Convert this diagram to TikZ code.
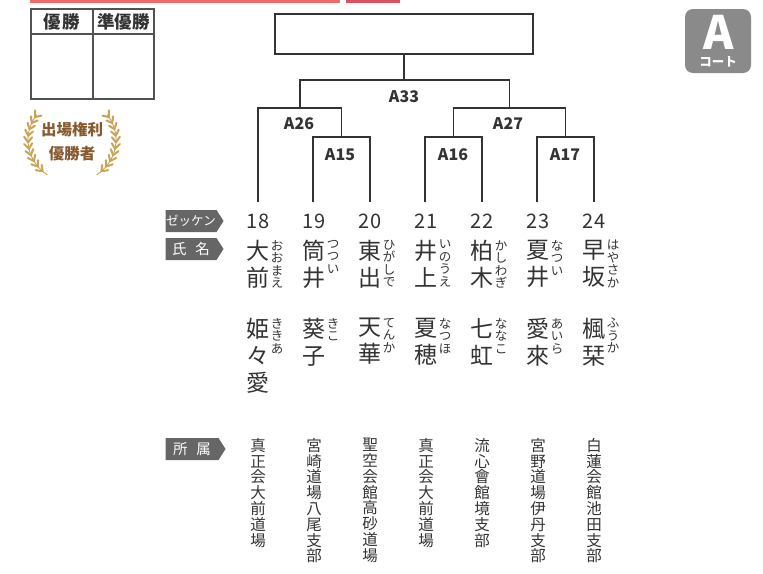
\documentclass[tikz,border=0pt]{standalone}
\usepackage{fontspec}
\setmainfont{Noto Sans CJK JP}
\usetikzlibrary{shapes.symbols}
\definecolor{ln}{HTML}{333333}
\definecolor{txt}{HTML}{333333}
\definecolor{tagc}{HTML}{666666}
\definecolor{badge}{HTML}{8A8A8A}
\definecolor{redA}{HTML}{F06A6A}
\definecolor{redB}{HTML}{D9535F}
\definecolor{gold}{HTML}{C9A456}
\definecolor{brown}{HTML}{87592E}
\tikzset{
  br/.style={draw=ln, line width=1.3pt},
  tbl/.style={draw=ln!85, line width=1.2pt},
  fam/.style={font=\fontsize{23}{27}\selectfont, align=center, inner sep=0pt, anchor=north, text=txt},
  fur/.style={font=\fontsize{12.5}{12.5}\selectfont, align=center, inner sep=0pt, anchor=north, text=txt},
  aff/.style={font=\fontsize{15.5}{15.8}\selectfont, align=center, inner sep=0pt, anchor=north, text=txt},
  num/.style={font=\fontsize{20}{20}\selectfont, inner sep=0pt, text=txt},
  lab/.style={font=\bfseries\fontsize{16}{16}\selectfont, inner sep=0pt, text=txt},
  tagbox/.style={signal, signal to=east, signal pointer angle=115, fill=tagc, text=white,
     minimum height=22pt, minimum width=58pt, inner sep=0pt, font=\fontsize{12.5}{12.5}\selectfont},
  hdr/.style={font=\bfseries\fontsize{17.5}{18}\selectfont, inner sep=0pt, text=txt},
  leaf/.style={gold, line width=2pt, line cap=round},
}
\begin{document}
\begin{tikzpicture}[x=1pt,y=-1pt]
\useasboundingbox (0,0) rectangle (763,573);
% top stripes
\fill[redA] (30,0) rectangle (340,2.5);
\fill[redB] (346,0) rectangle (400,2.5);
% result table
\draw[tbl] (31,9) rectangle (154,99);
\draw[tbl] (31,34) -- (154,34);
\draw[tbl] (93,9) -- (93,99);
\node[hdr] (win) at (62,21.5) {優\hspace{0.1em}勝};
\node[hdr] (runner) at (123.5,21.5) {準優勝};
% laurel badge
\foreach \a in {147,156,...,232} {
  \draw[leaf] ({72+44*cos(\a)},{140-42*sin(\a)}) -- ({72+48*cos(\a-7)},{140-46*sin(\a-7)});
  \draw[leaf] ({72+44*cos(\a)},{140-42*sin(\a)}) -- ({72+40*cos(\a-7)},{140-38*sin(\a-7)});
  \draw[leaf] ({72-44*cos(\a)},{140-42*sin(\a)}) -- ({72-48*cos(\a-7)},{140-46*sin(\a-7)});
  \draw[leaf] ({72-44*cos(\a)},{140-42*sin(\a)}) -- ({72-40*cos(\a-7)},{140-38*sin(\a-7)});
}
\draw[gold, line width=0.9pt] plot[domain=143:236, samples=30] ({72+44*cos(\x)},{140-42*sin(\x)});
\draw[gold, line width=0.9pt] plot[domain=143:236, samples=30] ({72-44*cos(\x)},{140-42*sin(\x)});
\node[font=\bfseries\fontsize{15.5}{16}\selectfont, text=brown, inner sep=0pt] (q1) at (72,130) {出場権利};
\node[font=\bfseries\fontsize{15.5}{16}\selectfont, text=brown, inner sep=0pt] (q2) at (72,154) {優勝者};
% court badge
\node[fill=badge, rounded corners=8pt, minimum width=66pt, minimum height=64pt, inner sep=0pt] (court) at (718,41) {};
\node[text=white, font=\bfseries\fontsize{46}{46}\selectfont, inner sep=0pt] (courtA) at (719,32) {A};
\node[text=white, font=\bfseries\fontsize{12.5}{12.5}\selectfont, inner sep=0pt] (courtT) at (718,62) {コート};
% final box
\node[draw=ln, line width=1.3pt, minimum width=258pt, minimum height=40pt, inner sep=0pt] (final) at (404,34) {};
% bracket coordinates
\coordinate (j33) at (404,80);
\coordinate (j26) at (300,108);
\coordinate (j27) at (509.5,108);
\coordinate (j15) at (341.5,137);
\coordinate (j16) at (453.5,137);
\coordinate (j17) at (565.5,137);
\coordinate (t18) at (258,202);
\coordinate (t19) at (313,202);
\coordinate (t20) at (370,202);
\coordinate (t21) at (425,202);
\coordinate (t22) at (482,202);
\coordinate (t23) at (537,202);
\coordinate (t24) at (594,202);
\draw[br] (final.south) -- (j33);
\draw[br] (j26) |- (j33) -| (j27);
\draw[br] (t18) |- (j26) -| (j15);
\draw[br] (t19) |- (j15) -| (t20);
\draw[br] (t21) |- (j16) -| (t22);
\draw[br] (j16) |- (j27) -| (j17);
\draw[br] (t23) |- (j17) -| (t24);
\node[lab] (A33) at (404,97) {A33};
\node[lab] (A26) at (299,124) {A26};
\node[lab] (A27) at (508,124) {A27};
\node[lab] (A15) at (340,155) {A15};
\node[lab] (A16) at (453,155) {A16};
\node[lab] (A17) at (565,155) {A17};
% tags
\node[tagbox] (tagnum) at (191,221) {ゼッケン};
\node[tagbox, font=\fontsize{14.5}{14.5}\selectfont] (tagname) at (191,249) {氏\hspace{0.6em}名};
\node[tagbox, font=\fontsize{14.5}{14.5}\selectfont, minimum width=60pt] (tagaff) at (192,449) {所\hspace{0.6em}属};
% competitors
\foreach \n/\x/\fa/\ffu/\gi/\gfu/\af in {
  18/258/{大\\前}/{お\\お\\ま\\え}/{姫\\々\\愛}/{き\\き\\あ}/{真\\正\\会\\大\\前\\道\\場},
  19/314/{筒\\井}/{つ\\つ\\い}/{葵\\子}/{き\\こ}/{宮\\崎\\道\\場\\八\\尾\\支\\部},
  20/370/{東\\出}/{ひ\\が\\し\\で}/{天\\華}/{て\\ん\\か}/{聖\\空\\会\\館\\高\\砂\\道\\場},
  21/426/{井\\上}/{い\\の\\う\\え}/{夏\\穂}/{な\\つ\\ほ}/{真\\正\\会\\大\\前\\道\\場},
  22/482/{柏\\木}/{か\\し\\わ\\ぎ}/{七\\虹}/{な\\な\\こ}/{流\\心\\會\\館\\境\\支\\部},
  23/538/{夏\\井}/{な\\つ\\い}/{愛\\來}/{あ\\い\\ら}/{宮\\野\\道\\場\\伊\\丹\\支\\部},
  24/594/{早\\坂}/{は\\や\\さ\\か}/{楓\\栞}/{ふ\\う\\か}/{白\\蓮\\会\\館\\池\\田\\支\\部}} {
  \node[num] (num\n) at (\x,221) {\n};
  \node[fam] (fam\n) at (\x,240) {\fa};
  \node[fur] (ffur\n) at (\x+19,240) {\ffu};
  \node[fam] (giv\n) at (\x,318) {\gi};
  \node[fur] (gfur\n) at (\x+19,318) {\gfu};
  \node[aff] (aff\n) at (\x,438) {\af};
}
\end{tikzpicture}
\end{document}
